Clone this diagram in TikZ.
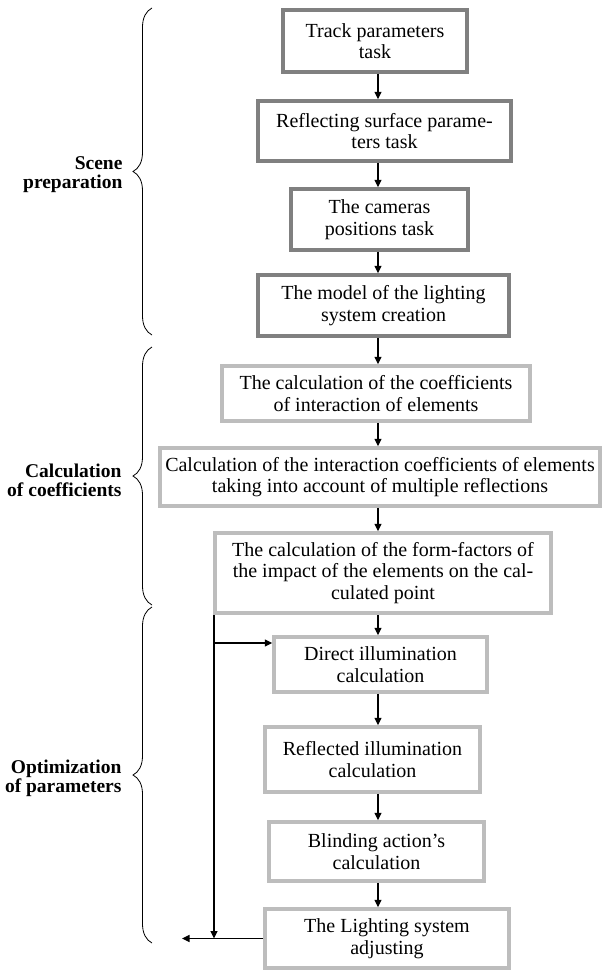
\documentclass[tikz,border=0pt]{standalone}
\usepackage{fontspec}
\setmainfont{Liberation Serif}
\usetikzlibrary{arrows.meta,decorations.pathreplacing}
\definecolor{darkbox}{HTML}{808080}
\definecolor{lightbox}{HTML}{BDBDBD}
\begin{document}
\begin{tikzpicture}[x=1pt,y=-1pt,
  box/.style={draw, line width=3.5pt, align=center, inner sep=0pt, font=\fontsize{20}{21.5}\selectfont},
  dbox/.style={box, draw=darkbox},
  lbox/.style={box, draw=lightbox},
  arr/.style={line width=1.1pt, -{Triangle[length=7.5pt,width=7pt]}},
  lab/.style={align=right, anchor=east, font=\fontsize{19.5}{19}\selectfont\bfseries},
  brc/.style={decorate, decoration={brace, amplitude=19pt}, line width=0.8pt}]
\useasboundingbox (0,0) rectangle (604,972);

% boxes
\node[dbox, minimum width=184pt, minimum height=62pt] (b1) at (375,41) {Track parameters\\task};
\node[dbox, minimum width=253pt, minimum height=60pt] (b2) at (384.5,131) {Reflecting surface parame-\\ters task};
\node[dbox, minimum width=177pt, minimum height=61pt] (b3) at (379.5,219.5) {The cameras\\positions task};
\node[dbox, minimum width=251pt, minimum height=61pt] (b4) at (383.5,305.5) {The model of the lighting\\system creation};
\node[lbox, minimum width=308pt, minimum height=55pt] (b5) at (376,393.5) {The calculation of the coefficients\\of interaction of elements};
\node[lbox, minimum width=440pt, minimum height=58pt] (b6) at (380,477) {Calculation of the interaction coefficients of elements\\taking into account of multiple reflections};
\node[lbox, minimum width=336pt, minimum height=80pt] (b7) at (383,573) {The calculation of the form-factors of\\the impact of the elements on the cal-\\culated point};
\node[lbox, minimum width=213pt, minimum height=55pt] (b8) at (380.5,664.5) {Direct illumination\\calculation};
\node[lbox, minimum width=215pt, minimum height=65pt] (b9) at (372.5,759.5) {Reflected illumination\\calculation};
\node[lbox, minimum width=215pt, minimum height=59pt] (b10) at (376.5,851.5) {Blinding action's\\calculation};
\node[lbox, minimum width=244pt, minimum height=59pt] (b11) at (387,938.5) {The Lighting system\\adjusting};

% main column arrows
\coordinate (col) at (378,0);
\draw[arr] (b1.south -| col) -- (b2.north -| col);
\draw[arr] (b2.south -| col) -- (b3.north -| col);
\draw[arr] (b3.south -| col) -- (b4.north -| col);
\draw[arr] (b4.south -| col) -- (b5.north -| col);
\draw[arr] (b5.south -| col) -- (b6.north -| col);
\draw[arr] (b6.south -| col) -- (b7.north -| col);
\draw[arr] (b7.south -| col) -- (b8.north -| col);
\draw[arr] (b8.south -| col) -- (b9.north -| col);
\draw[arr] (b9.south -| col) -- (b10.north -| col);
\draw[arr] (b10.south -| col) -- (b11.north -| col);

% feedback loop
\coordinate (fx) at (214,0);
\coordinate (br) at (214,643);
\coordinate (ret) at (182,0);
\draw[arr] (b7.south -| fx) -- (b11.west -| fx);
\draw[arr] (br) -- (br -| b8.west);
\draw[arr] (b11.west) -- (b11.west -| ret);

% braces
\draw[brc] (152,335) -- (152,8);
\draw[brc] (152,605) -- (152,347);
\draw[brc] (152,943) -- (152,607);

% labels
\node[lab] (l1) at (126,175) {Scene\\preparation};
\node[lab] (l2) at (125,480) {Calculation\\of coefficients};
\node[lab] (l3) at (125,778) {Optimization\\of parameters};
\end{tikzpicture}
\end{document}
